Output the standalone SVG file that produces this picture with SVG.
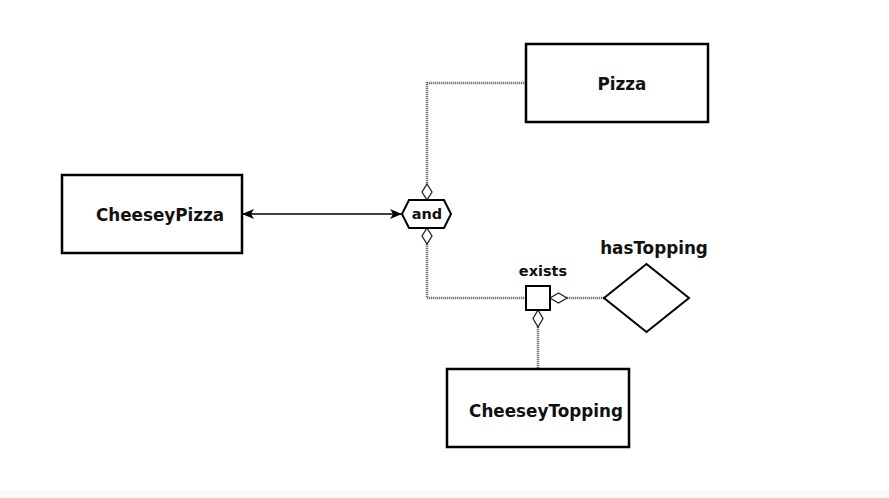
<svg xmlns="http://www.w3.org/2000/svg" width="889" height="498" viewBox="0 0 889 498">
  <style>
    .box { fill: #ffffff; stroke: #000000; stroke-width: 2.5; }
    .shape { fill: #ffffff; stroke: #000000; stroke-width: 2; }
    .label { font-family: "DejaVu Sans", "Liberation Sans", sans-serif; font-weight: bold; fill: #111111; text-anchor: middle; dominant-baseline: central; }
    .big { font-size: 16.8px; }
    .small { font-size: 14.5px; }
    .link { fill: none; stroke: #7a7a7a; stroke-width: 2.6; stroke-dasharray: 1.3 0.7; }
    .tip { fill: #ffffff; stroke: #222222; stroke-width: 1.3; }
    .solid { fill: none; stroke: #000000; stroke-width: 1.6; }
  </style>
  <defs>
    <marker id="arrow" viewBox="0 0 12 10" refX="11" refY="5" markerWidth="12" markerHeight="10" markerUnits="userSpaceOnUse" orient="auto-start-reverse">
      <path d="M0,0 L12,5 L0,10 L3,5 Z" fill="#000000"/>
    </marker>
  </defs>

  <rect x="0" y="0" width="889" height="498" fill="#ffffff"/>
  <rect x="0" y="490" width="889" height="8" fill="#fafafa"/>

  <g id="connectors">
    <!-- Pizza to the intersection -->
    <path class="link" d="M526,83 H427 V184"/>
    <!-- intersection to the existential restriction -->
    <path class="link" d="M427,244 V298 H526"/>
    <!-- restriction to its property -->
    <path class="link" d="M567,298 H604"/>
    <!-- restriction to its filler -->
    <path class="link" d="M538,327 V369"/>
    <!-- equivalence between CheeseyPizza and the intersection -->
    <line class="solid" x1="243" y1="214" x2="401" y2="214" marker-start="url(#arrow)" marker-end="url(#arrow)"/>
    <!-- open diamond tips -->
    <path class="tip" d="M427,184 L432,192 L427,200 L422,192 Z"/>
    <path class="tip" d="M427,228 L432,236 L427,244 L422,236 Z"/>
    <path class="tip" d="M550,298 L558.5,293 L567,298 L558.5,303 Z"/>
    <path class="tip" d="M538,310 L543,318.5 L538,327 L533,318.5 Z"/>
  </g>

  <g id="node-pizza">
    <rect class="box" x="526" y="44" width="182" height="78"/>
    <text class="label big" x="622" y="84">Pizza</text>
  </g>

  <g id="node-cheeseypizza">
    <rect class="box" x="62" y="175" width="180" height="78"/>
    <text class="label big" x="160" y="215">CheeseyPizza</text>
  </g>

  <g id="node-and">
    <path class="shape" d="M402,214 L409,200 H444 L451,214 L444,228 H409 Z"/>
    <text class="label small" x="427" y="214">and</text>
  </g>

  <g id="node-exists">
    <rect class="shape" x="526" y="286" width="24" height="24"/>
    <text class="label small" x="543" y="271">exists</text>
  </g>

  <g id="node-hastopping">
    <path class="shape" d="M604,298 L646.5,264 L689,298 L646.5,332 Z"/>
    <text class="label big" x="654" y="248">hasTopping</text>
  </g>

  <g id="node-cheeseytopping">
    <rect class="box" x="447" y="369" width="182" height="78"/>
    <text class="label big" x="546" y="411">CheeseyTopping</text>
  </g>
</svg>
